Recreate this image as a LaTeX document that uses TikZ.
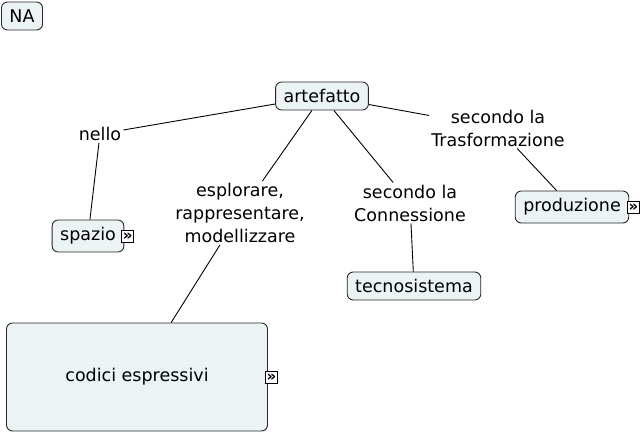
\documentclass[tikz,border=0pt]{standalone}
\usepackage{fontspec}
\setmainfont{DejaVu Sans}
\usetikzlibrary{positioning}
\definecolor{conceptfill}{RGB}{235,243,245}
\definecolor{conceptline}{RGB}{40,40,40}

\begin{document}
\begin{tikzpicture}[x=1pt, y=-1pt,
    concept/.style={draw=conceptline, fill=conceptfill, rounded corners=6pt, inner xsep=8pt, minimum height=28pt, font=\fontsize{17.5}{22}\selectfont, line width=0.9pt},
    phrase/.style={align=center, inner sep=2pt, font=\fontsize{17.5}{23}\selectfont},
    link/.style={line width=0.9pt},
    more/.style={draw, fill=white, inner sep=0pt, minimum size=12pt, text height=8pt, text depth=0pt, font=\fontsize{15}{15}\selectfont\bfseries, line width=0.8pt}
]
    \useasboundingbox (0,0) rectangle (642,434);

    % concetti
    \node[concept] (na) at (22,16) {NA};
    \node[concept] (artefatto) at (322,96) {artefatto};
    \node[concept, minimum height=32pt] (spazio) at (88,236) {spazio};
    \node[concept, minimum height=32pt] (produzione) at (572,207) {produzione};
    \node[concept] (tecnosistema) at (414,286) {tecnosistema};
    \node[concept, minimum width=261pt, minimum height=108pt] (codici) at (137,377) {codici espressivi};

    % frasi di collegamento
    \node[phrase] (nello) at (100,134) {nello};
    \node[phrase] (esplorare) at (240,213) {esplorare,\\rappresentare,\\modellizzare};
    \node[phrase] (connessione) at (410,203) {secondo la\\Connessione};
    \node[phrase] (trasformazione) at (498,128) {secondo la\\Trasformazione};

    % icone
    \node[more, right=-3pt of spazio] (spaziomore) {»};
    \node[more, right=-2pt of produzione] (produzionemore) {»};
    \node[more, right=-3pt of codici] (codicimore) {»};

    % collegamenti
    \draw[link] (artefatto) -- (nello);
    \draw[link] (nello) -- (spazio);
    \draw[link] (artefatto) -- (esplorare);
    \draw[link] (esplorare) -- (codici);
    \draw[link] (artefatto) -- (connessione);
    \draw[link] (connessione) -- (tecnosistema);
    \draw[link] (artefatto) -- (trasformazione);
    \draw[link] (trasformazione) -- (produzione);
\end{tikzpicture}
\end{document}
